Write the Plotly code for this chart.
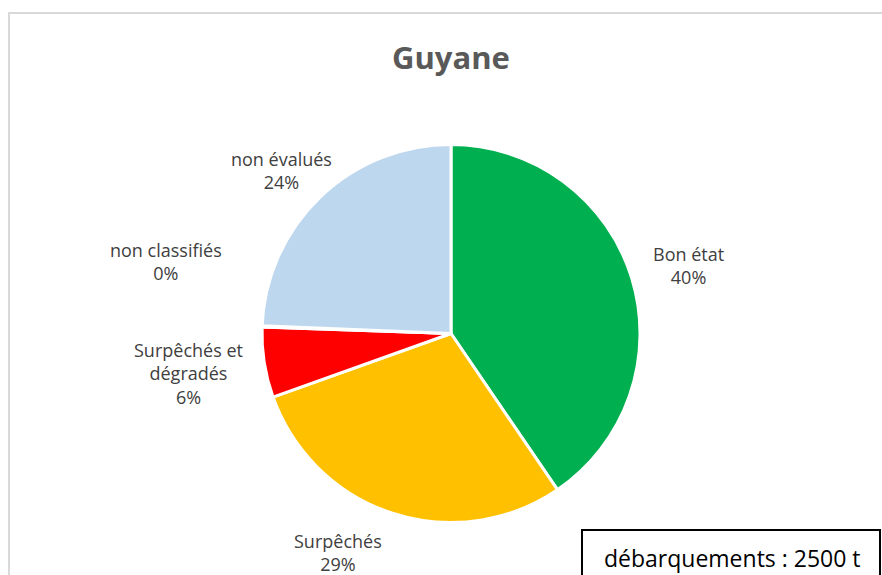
import plotly.graph_objects as go

# Stock status shares for Guyane landings
categories = ["Bon état", "Surpêchés", "Surpêchés et dégradés", "non classifiés", "non évalués"]
label_texts = ["Bon état", "Surpêchés", "Surpêchés et<br>dégradés", "non classifiés", "non évalués"]
shares = [40.4, 29.0, 6.0, 0.1, 24.3]
colors = ["#00B050", "#FFC000", "#FF0000", "#A5A5A5", "#BDD7EE"]
title_text = "Guyane"
landings_text = "débarquements : 2500 t"

W, H = 882, 575
FONT = "Open Sans"


def px(x, y):
    return x / W, 1 - y / H


# label anchor points (pixels) for each category, in the same order
label_pos = [(688, 265), (338, 552), (188, 373), (166, 261), (281, 171)]

fig = go.Figure()

cx, cy, r = 451, 333.5, 189
fig.add_trace(go.Pie(
    labels=categories,
    values=shares,
    sort=False,
    direction="clockwise",
    rotation=0,
    marker=dict(colors=colors, line=dict(color="white", width=3)),
    textinfo="none",
    hoverinfo="label+percent",
    showlegend=False,
    domain=dict(x=[(cx - r) / W, (cx + r) / W], y=[1 - (cy + r) / H, 1 - (cy - r) / H]),
))

total = sum(shares)
annotations = []
for txt, v, (lx, ly) in zip(label_texts, shares, label_pos):
    ax, ay = px(lx, ly)
    annotations.append(dict(
        x=ax, y=ay, xref="paper", yref="paper", showarrow=False,
        text=f"{txt}<br>{round(v / total * 100)}%",
        font=dict(family=FONT, size=18, color="#404040"),
        align="center", xanchor="center", yanchor="middle",
    ))

tx, ty = px(451, 57)
annotations.append(dict(
    x=tx, y=ty, xref="paper", yref="paper", showarrow=False,
    text=f"<b>{title_text}</b>",
    font=dict(family=FONT, size=31, color="#595959"),
    xanchor="center", yanchor="middle",
))

bx, by = px(602, 558)
annotations.append(dict(
    x=bx, y=by, xref="paper", yref="paper", showarrow=False,
    text=landings_text,
    font=dict(family=FONT, size=23, color="#000000"),
    xanchor="left", yanchor="middle",
))

shapes = [
    # chart frame
    dict(type="rect", xref="paper", yref="paper",
         x0=9 / W, y0=1 - 600 / H, x1=900 / W, y1=1 - 13 / H,
         line=dict(color="#D9D9D9", width=2), fillcolor="rgba(0,0,0,0)", layer="below"),
    # landings box
    dict(type="rect", xref="paper", yref="paper",
         x0=582 / W, y0=1 - 600 / H, x1=880 / W, y1=1 - 530 / H,
         line=dict(color="#000000", width=2), fillcolor="white"),
]

fig.update_layout(
    width=W, height=H,
    margin=dict(l=0, r=0, t=0, b=0),
    paper_bgcolor="white",
    plot_bgcolor="white",
    annotations=annotations,
    shapes=shapes,
)

fig.write_html("out.html")
